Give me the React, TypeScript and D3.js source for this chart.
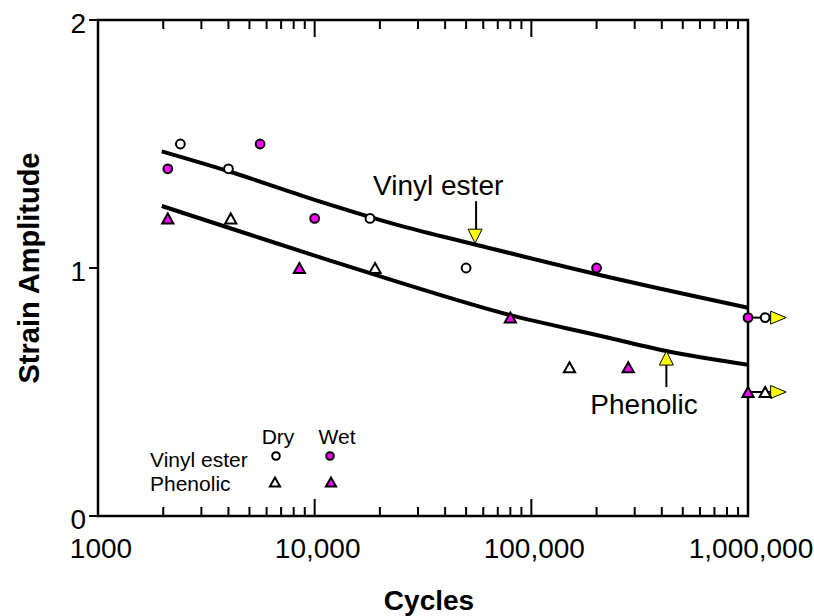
import React from "react";
import * as d3 from "d3";

// fatigue data (cycles vs strain amplitude)
const veWetN = [2100, 5600, 10000, 200000, 1000000];
const veWetS = [1.4, 1.5, 1.2, 1.0, 0.8];
const veDryN = [2400, 4000, 18000, 50000, 1200000];
const veDryS = [1.5, 1.4, 1.2, 1.0, 0.8];
const phWetN = [2100, 8500, 80000, 280000, 1000000];
const phWetS = [1.2, 1.0, 0.8, 0.6, 0.5];
const phDryN = [4100, 19000, 150000, 1200000];
const phDryS = [1.2, 1.0, 0.6, 0.5];

// run-outs (no failure): from wet point to dry point, then arrow
const runoutFromN = [1000000, 1000000];
const runoutToN = [1200000, 1200000];
const runoutS = [0.8, 0.5];

// fitted curves
const veFitN = [1970, 4000, 10000, 25000, 55000, 200000, 1000000];
const veFitS = [1.47, 1.39, 1.275, 1.17, 1.095, 0.975, 0.84];
const phFitN = [1970, 5000, 10000, 25000, 80000, 200000, 420000, 1000000];
const phFitS = [1.25, 1.135, 1.05, 0.94, 0.81, 0.73, 0.665, 0.61];

// callouts pointing at the fits
const calloutLabels = ["Vinyl ester", "Phenolic"];
const calloutN = [55000, 420000];
const calloutS = [1.1, 0.665];

const xTickValues = [1000, 10000, 100000, 1000000];
const xTickLabels = ["1000", "10,000", "100,000", "1,000,000"];
const yTickValues = [0, 1, 2];
const yTickLabels = ["0", "1", "2"];

const legendCols = ["Dry", "Wet"];
const legendRows = ["Vinyl ester", "Phenolic"];

const FONT = '"Liberation Sans", Arial, Helvetica, sans-serif';
const MAGENTA = "#ff00ff";
const YELLOW = "#ffff00";

const left = 98, right = 748, top = 20, bottom = 516;

const x = d3.scaleLog().domain([1000, 1000000]).range([left, right]);
const y = d3.scaleLinear().domain([0, 2]).range([bottom, top]);

function tri(cx: number, cy: number, s = 1) {
  return `M${cx},${cy - 5 * s}L${cx + 5.6 * s},${cy + 5 * s}L${cx - 5.6 * s},${cy + 5 * s}Z`;
}

function fitPath(ns: number[], ss: number[]) {
  const line = d3
    .line<number>()
    .x((_, i) => x(ns[i]))
    .y((d) => y(d))
    .curve(d3.curveMonotoneX);
  return line(ss) || "";
}

export default function App() {
  const minor = x.ticks();
  const isMajor = (v: number) => Math.abs(Math.log10(v) - Math.round(Math.log10(v))) < 1e-9;

  return (
    <svg
      width={814}
      height={616}
      style={{ position: "absolute", left: 0, top: 0, background: "#fff" }}
      fontFamily={FONT}
    >
      {/* frame */}
      <rect x={left} y={top} width={right - left} height={bottom - top} fill="none" stroke="#000" strokeWidth={2.5} />

      {/* x ticks, bottom and top, pointing inward */}
      {minor.map((v, i) => {
        const len = isMajor(v) ? 17 : 9;
        return (
          <g key={"xt" + i} stroke="#000" strokeWidth={2}>
            <line x1={x(v)} x2={x(v)} y1={bottom} y2={bottom - len} />
            <line x1={x(v)} x2={x(v)} y1={top} y2={top + len} />
          </g>
        );
      })}
      {xTickValues.map((v, i) => (
        <text key={"xl" + i} x={x(v) + 3} y={558} fontSize={28} textAnchor="middle">
          {xTickLabels[i]}
        </text>
      ))}

      {/* y ticks, outward */}
      {yTickValues.map((v, i) => (
        <g key={"yt" + i}>
          <line x1={left - 9} x2={left} y1={y(v)} y2={y(v)} stroke="#000" strokeWidth={2} />
          <text x={86} y={y(v) + 13} fontSize={28} textAnchor="end">
            {yTickLabels[i]}
          </text>
        </g>
      ))}

      {/* axis titles */}
      <text x={429} y={610} fontSize={28} fontWeight="bold" textAnchor="middle">
        Cycles
      </text>
      <text
        transform={`translate(39,${(top + bottom) / 2}) rotate(-90)`}
        fontSize={29}
        fontWeight="bold"
        textAnchor="middle"
      >
        Strain Amplitude
      </text>

      {/* fits */}
      <path d={fitPath(veFitN, veFitS)} fill="none" stroke="#000" strokeWidth={4} />
      <path d={fitPath(phFitN, phFitS)} fill="none" stroke="#000" strokeWidth={4} />

      {/* run-out connectors + arrows */}
      {runoutS.map((s, i) => {
        const x0 = x(runoutFromN[i]);
        const x1 = x(runoutToN[i]);
        const yy = y(s);
        return (
          <g key={"ro" + i}>
            <line x1={x0} x2={x1 + 6} y1={yy} y2={yy} stroke="#000" strokeWidth={2} />
            <path
              d={`M${x1 + 5.5},${yy - 6.5}L${x1 + 21},${yy}L${x1 + 5.5},${yy + 6.5}Z`}
              fill={YELLOW}
              stroke="#000"
              strokeWidth={1}
            />
          </g>
        );
      })}

      {/* markers */}
      {veDryN.map((n, i) => (
        <circle key={"vd" + i} cx={x(n)} cy={y(veDryS[i])} r={4.4} fill="#fff" stroke="#000" strokeWidth={2} />
      ))}
      {veWetN.map((n, i) => (
        <circle key={"vw" + i} cx={x(n)} cy={y(veWetS[i])} r={4.4} fill={MAGENTA} stroke="#000" strokeWidth={2} />
      ))}
      {phDryN.map((n, i) => (
        <path key={"pd" + i} d={tri(x(n), y(phDryS[i]))} fill="#fff" stroke="#000" strokeWidth={2} />
      ))}
      {phWetN.map((n, i) => (
        <path key={"pw" + i} d={tri(x(n), y(phWetS[i]))} fill={MAGENTA} stroke="#000" strokeWidth={2} />
      ))}

      {/* callouts */}
      {calloutLabels.map((lab, i) => {
        const tx = x(calloutN[i]);
        const ty = y(calloutS[i]);
        const down = i === 0;
        if (down) {
          return (
            <g key={"co" + i}>
              <line x1={tx + 1} x2={tx + 1} y1={ty - 42} y2={ty - 14} stroke="#000" strokeWidth={2} />
              <path d={`M${tx},${ty}L${tx + 7},${ty - 14}L${tx - 7},${ty - 14}Z`} fill={YELLOW} stroke="#000" strokeWidth={1} />
              <text x={tx - 102} y={ty - 48} fontSize={28}>
                {lab}
              </text>
            </g>
          );
        }
        return (
          <g key={"co" + i}>
            <line x1={tx} x2={tx} y1={ty + 14} y2={ty + 36} stroke="#000" strokeWidth={2} />
            <path d={`M${tx},${ty}L${tx + 7},${ty + 14}L${tx - 7},${ty + 14}Z`} fill={YELLOW} stroke="#000" strokeWidth={1} />
            <text x={tx - 76} y={ty + 63} fontSize={28}>
              {lab}
            </text>
          </g>
        );
      })}

      {/* legend */}
      <g fontSize={21}>
        {legendCols.map((c, i) => (
          <text key={"lc" + i} x={278 + i * 59} y={444} textAnchor="middle">
            {c}
          </text>
        ))}
        {legendRows.map((r, i) => (
          <text key={"lr" + i} x={150} y={467 + i * 24}>
            {r}
          </text>
        ))}
        <circle cx={276} cy={456} r={3.8} fill="#fff" stroke="#000" strokeWidth={2} />
        <circle cx={330} cy={456} r={3.8} fill={MAGENTA} stroke="#000" strokeWidth={2} />
        <path d={tri(275, 482, 0.9)} fill="#fff" stroke="#000" strokeWidth={2} />
        <path d={tri(331, 482, 0.9)} fill={MAGENTA} stroke="#000" strokeWidth={2} />
      </g>
    </svg>
  );
}
